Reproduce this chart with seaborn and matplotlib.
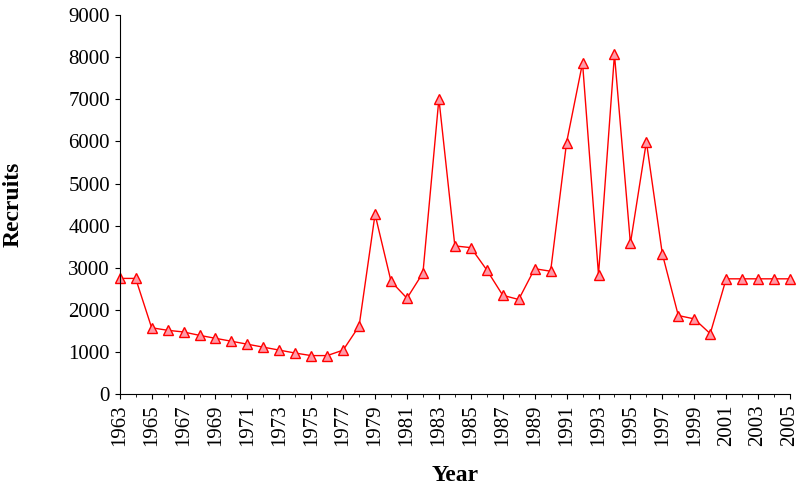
import numpy as np
import pandas as pd
import seaborn as sns
import matplotlib.pyplot as plt

years = list(range(1963, 2006))
recruits = [2750, 2750, 1580, 1520, 1480, 1400, 1330, 1260, 1190, 1120,
            1050, 980, 920, 920, 1050, 1620, 4270, 2680, 2280, 2880,
            7010, 3520, 3480, 2950, 2350, 2250, 2980, 2920, 5970, 7860,
            2840, 8060, 3580, 5990, 3330, 1870, 1790, 1440, 2740, 2740,
            2740, 2740, 2740]

df = pd.DataFrame({"Year": years, "Recruits": recruits})

sns.set_style("ticks")
plt.rcParams['font.family'] = ['Liberation Serif', 'DejaVu Serif']
plt.rcParams['text.color'] = 'black'
plt.rcParams['axes.labelcolor'] = 'black'
plt.rcParams['xtick.color'] = 'black'
plt.rcParams['ytick.color'] = 'black'
plt.rcParams['axes.edgecolor'] = 'black'

fig, ax = plt.subplots(figsize=(7.98, 4.93), dpi=100)
sns.lineplot(data=df, x="Year", y="Recruits", ax=ax, color="red", lw=1,
             marker="^", markersize=7, markerfacecolor="#ff9aa8",
             markeredgecolor="red", markeredgewidth=1, clip_on=False)

ax.set_xlim(1963, 2005)
ax.set_ylim(0, 9000)
ax.set_xticks(range(1963, 2006, 2))
ax.set_xticks(range(1963, 2006, 1), minor=True)
ax.set_yticks(range(0, 9001, 1000))
ax.tick_params(axis='x', labelrotation=90, labelsize=15, direction='out')
ax.tick_params(axis='y', labelsize=15, direction='out')
ax.set_xlabel("Year", fontsize=17, fontweight='bold', labelpad=14)
ax.set_ylabel("Recruits", fontsize=17, fontweight='bold', labelpad=32)
sns.despine(ax=ax)
fig.subplots_adjust(left=0.15, right=0.99, top=0.97, bottom=0.2)
fig.savefig("out.png")
